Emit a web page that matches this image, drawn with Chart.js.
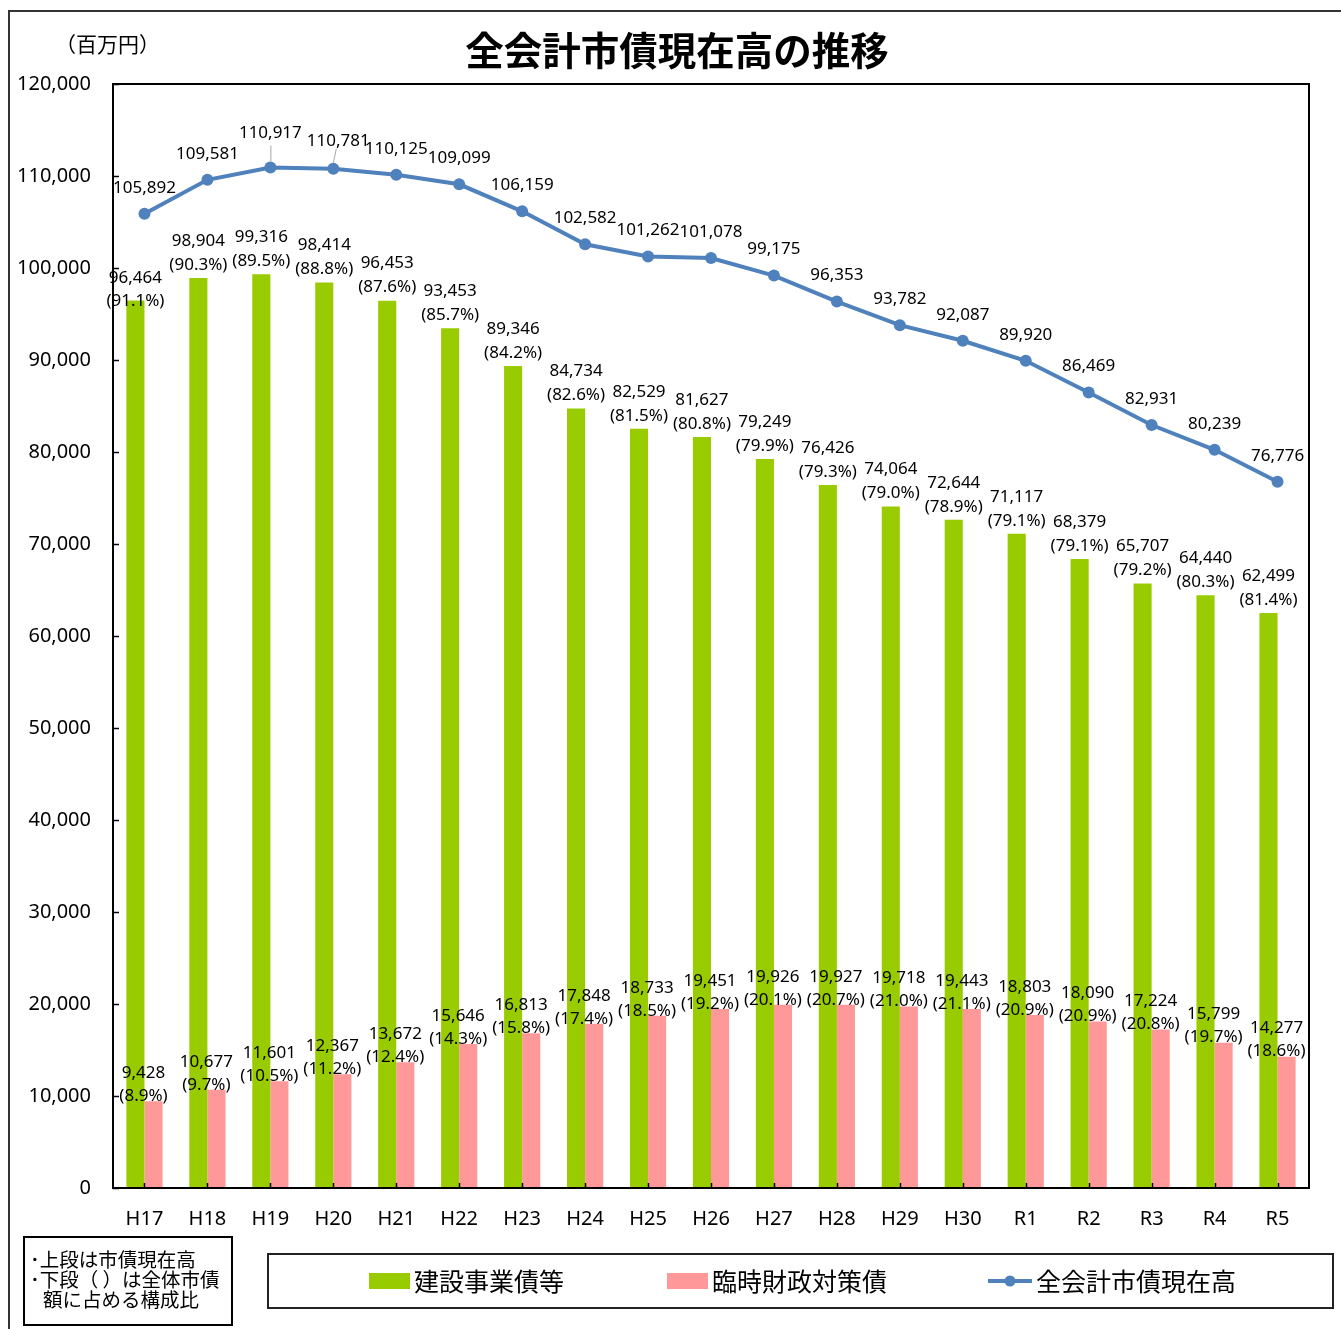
<!DOCTYPE html>
<html><head><meta charset="utf-8">
<script src="https://cdn.jsdelivr.net/npm/chart.js@4"></script>
<style>
html,body{margin:0;padding:0;background:#fff;}
#wrap{position:relative;width:1341px;height:1329px;overflow:hidden;}
#frame{position:absolute;left:8px;top:10px;width:1340px;height:1330px;border:2px solid #333;box-sizing:border-box;}
canvas{position:absolute;left:0;top:0;}
</style></head>
<body><div id="wrap"><div id="frame"></div><canvas id="c" width="1341" height="1329"></canvas></div>
<script>
const categories = ['H17','H18','H19','H20','H21','H22','H23','H24','H25','H26','H27','H28','H29','H30','R1','R2','R3','R4','R5'];
const constructionBonds = [96464,98904,99316,98414,96453,93453,89346,84734,82529,81627,79249,76426,74064,72644,71117,68379,65707,64440,62499];
const constructionShare = [91.1,90.3,89.5,88.8,87.6,85.7,84.2,82.6,81.5,80.8,79.9,79.3,79.0,78.9,79.1,79.1,79.2,80.3,81.4];
const temporaryBonds = [9428,10677,11601,12367,13672,15646,16813,17848,18733,19451,19926,19927,19718,19443,18803,18090,17224,15799,14277];
const temporaryShare = [8.9,9.7,10.5,11.2,12.4,14.3,15.8,17.4,18.5,19.2,20.1,20.7,21.0,21.1,20.9,20.9,20.8,19.7,18.6];
const totalBonds = [105892,109581,110917,110781,110125,109099,106159,102582,101262,101078,99175,96353,93782,92087,89920,86469,82931,80239,76776];
const yTicks = [0,10000,20000,30000,40000,50000,60000,70000,80000,90000,100000,110000,120000];

const GREEN = '#99CC00', PINK = '#FF9999', BLUE = '#4F81BD';
const NUMFONT = '"Noto Sans", sans-serif';
const JPFONT = '"Noto Sans CJK JP", sans-serif';
const fmt = v => v.toLocaleString('en-US');

const decor = {
  id: 'decor',
  afterDatasetsDraw(chart) {
    const ctx = chart.ctx;
    const a = chart.chartArea;
    const xs = chart.scales.x, ys = chart.scales.y;
    ctx.save();
    ctx.strokeStyle = '#000'; ctx.lineWidth = 2;
    ctx.strokeRect(a.left, a.top, a.right - a.left, a.bottom - a.top);
    ctx.lineWidth = 1.5;
    yTicks.forEach(v => { const y = Math.round(ys.getPixelForValue(v)) + 0.5; ctx.beginPath(); ctx.moveTo(a.left, y); ctx.lineTo(a.left + 6, y); ctx.stroke(); });
    categories.forEach((c, i) => { const x = Math.round(xs.getPixelForValue(i)) + 0.5; ctx.beginPath(); ctx.moveTo(x, a.bottom); ctx.lineTo(x, a.bottom - 5); ctx.stroke(); });

    ctx.fillStyle = '#000';
    ctx.font = '17px ' + NUMFONT;
    ctx.textAlign = 'center'; ctx.textBaseline = 'middle';
    const m0 = chart.getDatasetMeta(0).data;
    m0.forEach((bar, i) => {
      let d1 = -37, d2 = -13;
      if (i === 0) { d1 = -22; d2 = 1; }
      ctx.fillText(fmt(constructionBonds[i]), bar.x, bar.y + d1);
      ctx.fillText('(' + constructionShare[i].toFixed(1) + '%)', bar.x, bar.y + d2);
    });
    const m1 = chart.getDatasetMeta(1).data;
    m1.forEach((bar, i) => {
      const cx = xs.getPixelForValue(i) - 1;
      ctx.fillText(fmt(temporaryBonds[i]), cx, bar.y - 28);
      ctx.fillText('(' + temporaryShare[i].toFixed(1) + '%)', cx, bar.y - 5);
    });
    const m2 = chart.getDatasetMeta(2).data;
    m2.forEach((pt, i) => {
      let dx = 0, dy = -26;
      if (i === 2) { dy = -34; }
      if (i === 3) { dx = 5; dy = -28; }
      ctx.fillText(fmt(totalBonds[i]), pt.x + dx, pt.y + dy);
    });
    ctx.strokeStyle = '#A6A6A6'; ctx.lineWidth = 1;
    const p2 = m2[2], p3 = m2[3];
    ctx.beginPath(); ctx.moveTo(p2.x + 0.5, p2.y - 22); ctx.lineTo(p2.x + 0.5, p2.y - 6); ctx.stroke();
    ctx.beginPath(); ctx.moveTo(p3.x + 3, p3.y - 20); ctx.lineTo(p3.x, p3.y - 6); ctx.stroke();
    ctx.restore();
  },
  afterDraw(chart) {
    const ctx = chart.ctx;
    ctx.save();
    ctx.fillStyle = '#000';
    ctx.textBaseline = 'middle'; ctx.textAlign = 'center';
    ctx.font = 'bold 38.5px ' + JPFONT;
    ctx.fillText('全会計市債現在高の推移', 677, 50);
    ctx.textAlign = 'left';
    ctx.font = '21px ' + JPFONT;
    ctx.fillText('（百万円）', 55, 44);
    ctx.strokeStyle = '#222'; ctx.lineWidth = 2;
    ctx.strokeRect(268, 1254, 1065, 54);
    ctx.fillStyle = GREEN; ctx.fillRect(369, 1273, 41, 16);
    ctx.fillStyle = PINK; ctx.fillRect(667, 1273, 41, 16);
    ctx.strokeStyle = BLUE; ctx.lineWidth = 4;
    ctx.beginPath(); ctx.moveTo(988, 1281); ctx.lineTo(1032, 1281); ctx.stroke();
    ctx.fillStyle = BLUE; ctx.beginPath(); ctx.arc(1010, 1281, 5.5, 0, Math.PI * 2); ctx.fill();
    ctx.fillStyle = '#000';
    ctx.font = '25px ' + JPFONT;
    ctx.fillText('建設事業債等', 414, 1281);
    ctx.fillText('臨時財政対策債', 712, 1281);
    ctx.fillText('全会計市債現在高', 1036, 1281);
    ctx.strokeStyle = '#000'; ctx.lineWidth = 2;
    ctx.strokeRect(24, 1237, 208, 88);
    ctx.font = '19.5px ' + JPFONT;
    ctx.fillText('･上段は市債現在高', 30, 1260);
    ctx.fillText('･下段（ ）は全体市債', 30, 1280);
    ctx.fillText('額に占める構成比', 43, 1300);
    ctx.restore();
  }
};

new Chart(document.getElementById('c'), {
  data: {
    labels: categories,
    datasets: [
      { type: 'bar', label: '建設事業債等', data: constructionBonds, backgroundColor: GREEN, order: 2, categoryPercentage: 0.575, barPercentage: 1.0 },
      { type: 'bar', label: '臨時財政対策債', data: temporaryBonds, backgroundColor: PINK, order: 2, categoryPercentage: 0.575, barPercentage: 1.0 },
      { type: 'line', label: '全会計市債現在高', data: totalBonds, borderColor: BLUE, backgroundColor: BLUE, borderWidth: 4, pointRadius: 6, pointBackgroundColor: BLUE, pointBorderWidth: 0, tension: 0, order: 1 }
    ]
  },
  options: {
    responsive: false,
    animation: false,
    devicePixelRatio: 1,
    layout: { padding: { top: 84, right: 32, left: 0, bottom: 0 } },
    plugins: { legend: { display: false }, title: { display: false }, tooltip: { enabled: false } },
    scales: {
      x: {
        grid: { display: false, drawTicks: false },
        border: { display: false },
        ticks: { color: '#000', font: { size: 20, family: NUMFONT }, padding: 19, maxRotation: 0 },
        afterFit(s) { s.height = 141; }
      },
      y: {
        min: 0, max: 120000,
        afterBuildTicks(s) { s.ticks = yTicks.map(v => ({ value: v })); },
        grid: { display: false, drawTicks: false },
        border: { display: false },
        ticks: { color: '#000', font: { size: 20, family: NUMFONT }, padding: 22, callback: v => fmt(v) },
        afterFit(s) { s.width = 113; }
      }
    }
  },
  plugins: [decor]
});
</script></body></html>
